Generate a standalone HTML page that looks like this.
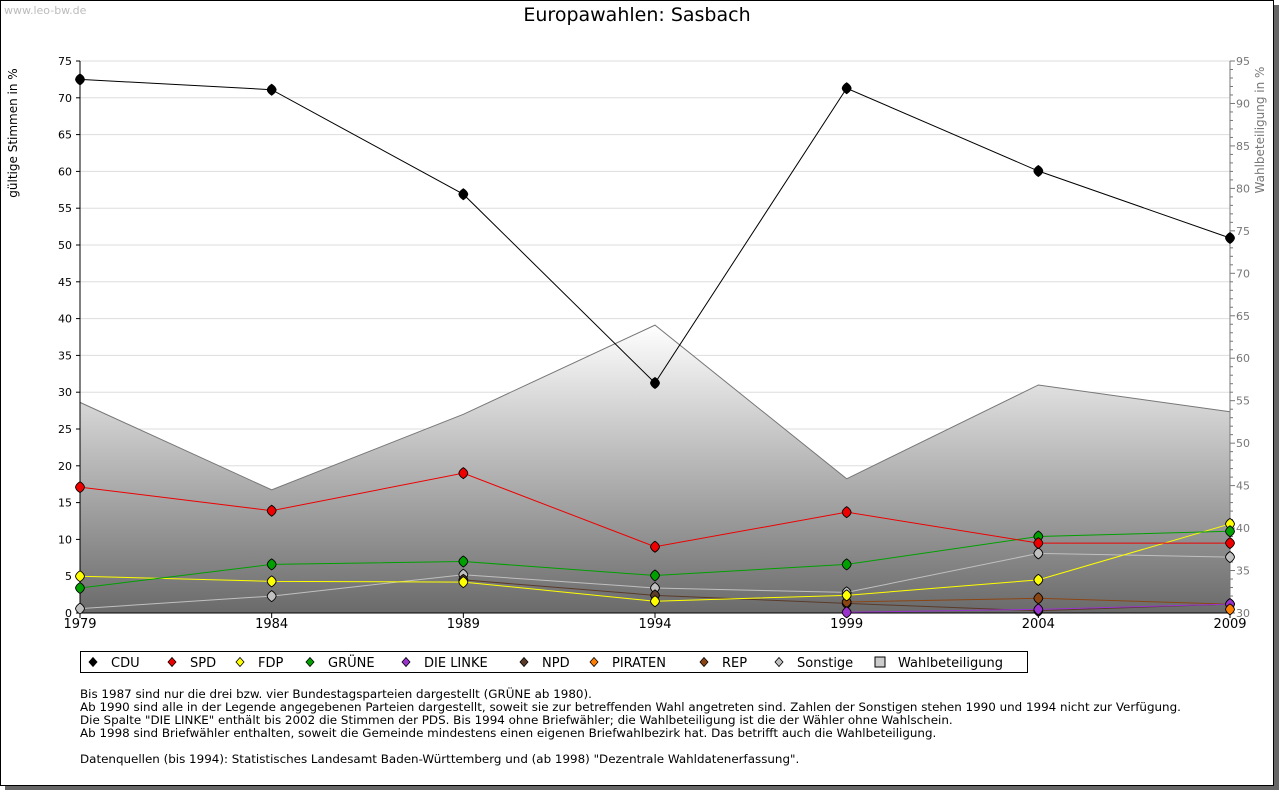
<!DOCTYPE html>
<html><head><meta charset="utf-8"><style>
body{margin:0;background:#fff;width:1280px;height:791px;overflow:hidden;font-family:"DejaVu Sans",sans-serif}
svg{position:absolute;left:0;top:0}
</style></head><body>
<svg id="c" width="1280" height="791" xmlns="http://www.w3.org/2000/svg" font-family="DejaVu Sans, Liberation Sans, sans-serif">
<defs><linearGradient id="g" x1="0" y1="0" x2="0" y2="1"><stop offset="0" stop-color="#ffffff"/><stop offset="1" stop-color="#6a6a6a"/></linearGradient></defs>
<rect x="5" y="5" width="1274" height="785" fill="#666"/>
<rect x="0.5" y="0.5" width="1273" height="785" fill="#fff" stroke="#000"/>
<text x="4" y="14" font-size="11" fill="#bbb">www.leo-bw.de</text>
<text x="637" y="21" font-size="19" text-anchor="middle">Europawahlen: Sasbach</text>
<text transform="translate(17,133) rotate(-90)" font-size="12" text-anchor="middle">gültige Stimmen in %</text>
<text transform="translate(1264,130) rotate(-90)" font-size="12" fill="#777" text-anchor="middle">Wahlbeteiligung in %</text>
<g id="plot"></g>
<g>
<rect x="80.5" y="651.5" width="947" height="21" fill="#fff" stroke="#000"/>
<g id="leg"></g></g>
<g font-size="11.9">
<text x="80" y="698">Bis 1987 sind nur die drei bzw. vier Bundestagsparteien dargestellt (GRÜNE ab 1980).</text>
<text x="80" y="711">Ab 1990 sind alle in der Legende angegebenen Parteien dargestellt, soweit sie zur betreffenden Wahl angetreten sind. Zahlen der Sonstigen stehen 1990 und 1994 nicht zur Verfügung.</text>
<text x="80" y="724">Die Spalte "DIE LINKE" enthält bis 2002 die Stimmen der PDS. Bis 1994 ohne Briefwähler; die Wahlbeteiligung ist die der Wähler ohne Wahlschein.</text>
<text x="80" y="737">Ab 1998 sind Briefwähler enthalten, soweit die Gemeinde mindestens einen eigenen Briefwahlbezirk hat. Das betrifft auch die Wahlbeteiligung.</text>
<text x="80" y="763">Datenquellen (bis 1994): Statistisches Landesamt Baden-Württemberg und (ab 1998) "Dezentrale Wahldatenerfassung".</text>
</g>
</svg>
<script>
const years=[1979,1984,1989,1994,1999,2004,2009];
const turnout=[54.8,44.5,53.4,63.9,45.8,56.85,53.7];
const cdu=[72.5,71.1,56.9,31.25,71.3,60.05,50.95];
const spd=[17.1,13.9,19.0,9.0,13.7,9.5,9.5];
const fdp=[5.0,4.3,4.2,1.6,2.4,4.5,12.1];
const gruene=[3.4,6.6,7.0,5.1,6.6,10.4,11.1];
const linke=[null,null,null,null,0.1,0.5,1.2];
const npd=[null,null,4.5,2.4,1.3,0.3,1.2];
const piraten=[null,null,null,null,null,null,0.5];
const rep=[null,null,null,null,1.5,2.0,1.2];
const sonstige=[0.6,2.3,5.2,3.4,2.8,8.1,7.6];
const leftTicks=[0,5,10,15,20,25,30,35,40,45,50,55,60,65,70,75];
const rightTicks=[30,35,40,45,50,55,60,65,70,75,80,85,90,95];
const NS='http://www.w3.org/2000/svg';
const X0=80,X1=1230,Y0=613,Y1=61;
const xs=y=>X0+(y-1979)/(2009-1979)*(X1-X0);
const yl=v=>Y0-v/75*(Y0-Y1);
const yr=v=>Y0-(v-30)/65*(Y0-Y1);
const plot=document.getElementById('plot');
function mk(t,a,p){const e=document.createElementNS(NS,t);for(const k in a)e.setAttribute(k,a[k]);(p||plot).appendChild(e);return e;}
leftTicks.forEach(v=>{const g=mk('line',{x1:X0,x2:X1,y1:yl(v),y2:yl(v),stroke:'#ddd'});


const t=mk('text',{x:X0-8,y:yl(v)+4,'font-size':11,'text-anchor':'end'});t.textContent=v;

});
let d='M'+xs(years[0])+','+Y0;years.forEach((y,i)=>d+=' L'+xs(y)+','+yr(turnout[i]));d+=' L'+xs(2009)+','+Y0+'Z';
const ar=mk('path',{d:d,fill:'url(#g)'});


const al=mk('polyline',{points:years.map((y,i)=>xs(y)+','+yr(turnout[i])).join(' '),fill:'none',stroke:'#777'});


mk('line',{x1:X0,x2:X0,y1:Y1,y2:Y0,stroke:'#000'});
mk('line',{x1:X0,x2:X1,y1:Y0,y2:Y0,stroke:'#000'});
mk('line',{x1:X1,x2:X1,y1:Y1,y2:Y0,stroke:'#777'});
leftTicks.forEach(v=>mk('line',{x1:X0-4,x2:X0,y1:yl(v),y2:yl(v),stroke:'#000'}));
for(let v=30;v<=95;v++)mk('line',{x1:X1,x2:X1+(v%5?3:5),y1:yr(v),y2:yr(v),stroke:'#777'});
rightTicks.forEach(v=>{const t=mk('text',{x:X1+6,y:yr(v)+4,'font-size':11,fill:'#777'});t.textContent=v;

});
years.forEach(y=>{mk('line',{x1:xs(y),x2:xs(y),y1:Y0,y2:Y0+5,stroke:'#000'});const t=mk('text',{x:xs(y),y:Y0+15,'font-size':13,'text-anchor':'middle'});t.textContent=y;

});
const series=[['cdu',cdu,'#000'],['sonstige',sonstige,'#c0c0c0'],['npd',npd,'#5a3a28'],['rep',rep,'#8b4513'],['linke',linke,'#9933cc'],['fdp',fdp,'#ffff00'],['gruene',gruene,'#00a000'],['spd',spd,'#ee0000'],['piraten',piraten,'#ff8000']];
function marker(x,y,c,p){return mk('path',{d:`M${x},${y-5.5}Q${x+4},${y-3} ${x+4.5},${y}Q${x+4},${y+3} ${x},${y+5.5}Q${x-4},${y+3} ${x-4.5},${y}Q${x-4},${y-3} ${x},${y-5.5}Z`,fill:c,stroke:'#000','stroke-width':0.9},p);}
series.forEach(([n,v,c])=>{const pts=[];years.forEach((y,i)=>{if(v[i]!=null)pts.push(xs(y)+','+yl(v[i]));});
if(pts.length>1){const l=mk('polyline',{points:pts.join(' '),fill:'none',stroke:c});

}
years.forEach((y,i)=>{if(v[i]!=null){const m=marker(xs(y),yl(v[i]),c);

}});});
const leg=document.getElementById('leg');
const li=[['CDU','#000',93],['SPD','#ee0000',172],['FDP','#ffff00',240],['GRÜNE','#00a000',310],['DIE LINKE','#9933cc',406],['NPD','#5a3a28',524],['PIRATEN','#ff8000',594],['REP','#8b4513',704],['Sonstige','#c0c0c0',779],['Wahlbeteiligung',null,880]];
li.forEach(([t,c,x])=>{if(c){const m=mk('path',{d:`M${x},${657.5}L${x+4},${662}L${x},${666.5}L${x-4},${662}Z`,fill:c,stroke:'#000','stroke-width':0.8},leg);}
else mk('rect',{x:x-5,y:657,width:10,height:10,fill:'#ccc',stroke:'#000'},leg);
const tx=mk('text',{x:x+18,y:667,'font-size':13},leg);tx.textContent=t;

});
</script>
</body></html>
